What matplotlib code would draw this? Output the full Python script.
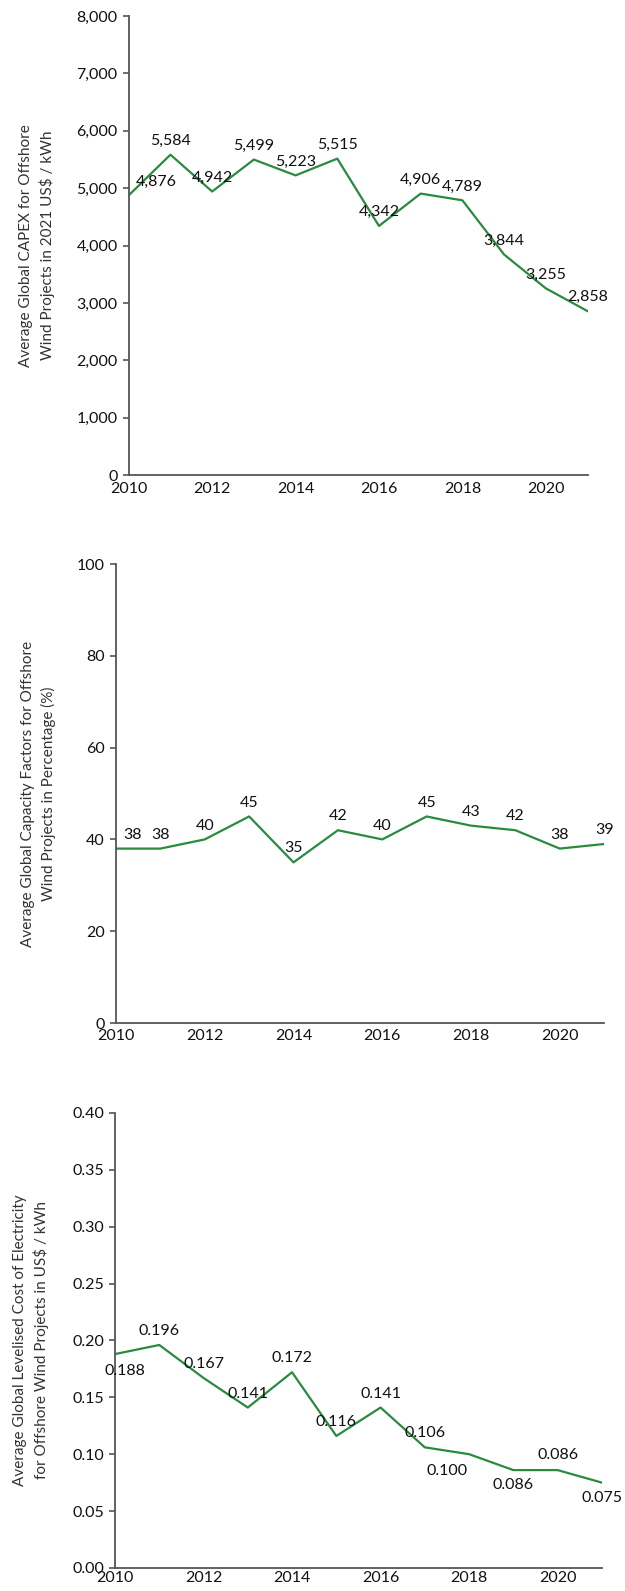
import matplotlib
matplotlib.use("Agg")
import matplotlib.pyplot as plt
from matplotlib.ticker import FuncFormatter

plt.rcParams['font.family'] = ['Lato', 'DejaVu Sans']

years = list(range(2010, 2022))
capex = [4876, 5584, 4942, 5499, 5223, 5515, 4342, 4906, 4789, 3844, 3255, 2858]
capacity = [38, 38, 40, 45, 35, 42, 40, 45, 43, 42, 38, 39]
lcoe = [0.188, 0.196, 0.167, 0.141, 0.172, 0.116, 0.141, 0.106, 0.100, 0.086, 0.086, 0.075]

capex_labels = ["{:,}".format(v) for v in capex]
capacity_labels = [str(v) for v in capacity]
lcoe_labels = ["{:.3f}".format(v) for v in lcoe]

green = "#2a8a3e"
spine_col = "#555555"

fig = plt.figure(figsize=(6.25, 15.91), dpi=100)
ax1 = fig.add_axes([0.206, 0.7014, 0.734, 0.2885])
ax2 = fig.add_axes([0.1856, 0.357, 0.781, 0.2885])
ax3 = fig.add_axes([0.184, 0.0145, 0.779, 0.286])


def style(ax, ymax, step, fmt, ylabel, lx, xpad):
    ax.set_xlim(2010, 2021)
    ax.set_ylim(0, ymax)
    ax.set_xticks(range(2010, 2021, 2))
    yt = []
    v = 0
    while v <= ymax + 1e-9:
        yt.append(v)
        v += step
    ax.set_yticks(yt)
    ax.yaxis.set_major_formatter(FuncFormatter(fmt))
    for s in ["top", "right"]:
        ax.spines[s].set_visible(False)
    for s in ["left", "bottom"]:
        ax.spines[s].set_color(spine_col)
        ax.spines[s].set_linewidth(1.3)
    ax.tick_params(axis="x", length=0, labelsize=11.5, pad=xpad, colors="#111111")
    ax.tick_params(axis="y", length=4, width=1.2, color=spine_col, labelsize=11.5,
                   pad=4, labelcolor="#111111")
    ax.set_ylabel(ylabel, fontsize=11, color="#333333", linespacing=1.45)
    ax.yaxis.set_label_coords(lx, 0.5)


# CAPEX
ax1.plot(years, capex, color=green, lw=1.6)
style(ax1, 8000, 1000, lambda v, p: "{:,.0f}".format(v),
      "Average Global CAPEX for Offshore\nWind Projects in 2021 US$ / kWh", -0.16, 5)
for i, (x, y) in enumerate(zip(years, capex)):
    dx = 20 if i == 0 else 0
    ax1.annotate(capex_labels[i], (x, y), xytext=(dx, 10), textcoords="offset points",
                 ha="center", va="center", fontsize=11.5, color="#111111")

# capacity factor
ax2.plot(years, capacity, color=green, lw=1.6)
style(ax2, 100, 20, lambda v, p: "{:.0f}".format(v),
      "Average Global Capacity Factors for Offshore\nWind Projects in Percentage (%)", -0.123, 4)
for i, (x, y) in enumerate(zip(years, capacity)):
    dx = 12 if i == 0 else 0
    ax2.annotate(capacity_labels[i], (x, y), xytext=(dx, 10), textcoords="offset points",
                 ha="center", va="center", fontsize=11.5, color="#111111")

# LCOE
lcoe_off = [(7, -12), (0, 10), (0, 10), (0, 10), (0, 10), (0, 10), (0, 10), (0, 10),
            (-16, -12), (0, -11), (0, 11), (0, -11)]
ax3.plot(years, lcoe, color=green, lw=1.6)
style(ax3, 0.40, 0.05, lambda v, p: "{:.2f}".format(v),
      "Average Global Levelised Cost of Electricity\nfor Offshore Wind Projects in US$ / kWh", -0.135, 2)
for i, (x, y) in enumerate(zip(years, lcoe)):
    ax3.annotate(lcoe_labels[i], (x, y), xytext=lcoe_off[i], textcoords="offset points",
                 ha="center", va="center", fontsize=11.5, color="#111111")

fig.savefig("out.png", dpi=100)
